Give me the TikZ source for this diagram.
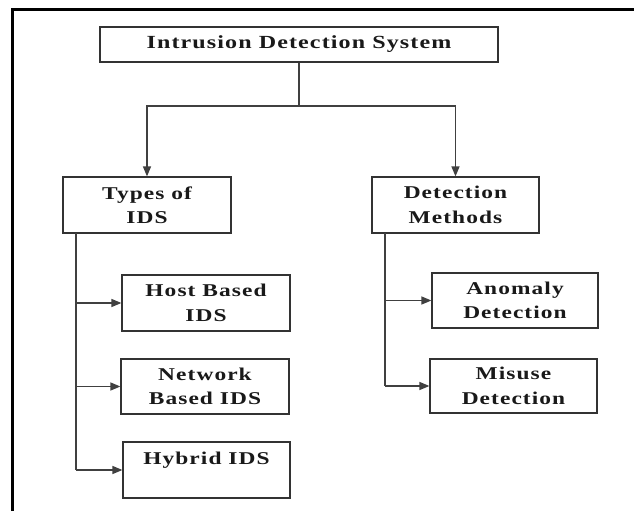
\documentclass[tikz,border=0pt]{standalone}
\usepackage{fontspec}
\setmainfont{Liberation Serif}[LetterSpace=6,FakeStretch=1.3]
\usetikzlibrary{arrows.meta}
\begin{document}
\begin{tikzpicture}[x=1pt,y=-1pt,
  box/.style={draw=black!80, line width=1.2pt, align=center, inner sep=0pt,
    font=\bfseries\fontsize{18}{24.5}\selectfont, text=black!90},
  conn/.style={draw=black!75, line width=1.3pt},
  arr/.style={conn, -{Triangle[length=10pt,width=8pt]}},
  frameline/.style={draw=black, line width=3pt}]
\useasboundingbox (0,0) rectangle (634,511);
\fill[white] (0,0) rectangle (634,511);
% frame
\coordinate (f1) at (12.5,511);
\coordinate (f2) at (12.5,9.5);
\coordinate (f3) at (634,9.5);
\draw[frameline] (f1) -- (f2) -- (f3);
% nodes
\node[box, minimum width=398pt, minimum height=35pt, font=\bfseries\fontsize{18.5}{24}\selectfont] (ids) at (299,44.5) {Intrusion Detection System};
\node[box, minimum width=168pt, minimum height=56pt] (types) at (147,205) {Types of\\IDS};
\node[box, minimum width=167pt, minimum height=56pt] (det) at (455.5,205) {Detection\\Methods};
\node[box, minimum width=168pt, minimum height=56pt] (host) at (206,303) {Host Based\\IDS};
\node[box, minimum width=168pt, minimum height=55pt] (net) at (205,386.5) {Network\\Based IDS};
\node[box, minimum width=167pt, minimum height=56pt] (hyb) at (206.5,470) {Hybrid IDS\\\mbox{}};
\node[box, minimum width=166pt, minimum height=55pt] (anom) at (515,300.5) {Anomaly\\Detection};
\node[box, minimum width=167pt, minimum height=54pt] (mis) at (513.5,386) {Misuse\\Detection};
% connectors
\coordinate (topj) at (ids.south |- 0,106);
\draw[conn] (ids.south) -- (topj);
\draw[arr] (topj) -| (types.north);
\draw[arr] (topj) -| (det.north);
\coordinate (tsp) at (76,233);
\coordinate (tend) at (76,470);
\draw[conn] (tsp) -- (tend);
\draw[arr] (tsp |- host.west) -- (host.west);
\draw[arr] (tsp |- net.west) -- (net.west);
\draw[arr] (tend) -- (hyb.west);
\coordinate (dsp) at (385,233);
\coordinate (dend) at (385,386);
\draw[conn] (dsp) -- (dend);
\draw[arr] (dsp |- anom.west) -- (anom.west);
\draw[arr] (dend) -- (mis.west);
\end{tikzpicture}
\end{document}
